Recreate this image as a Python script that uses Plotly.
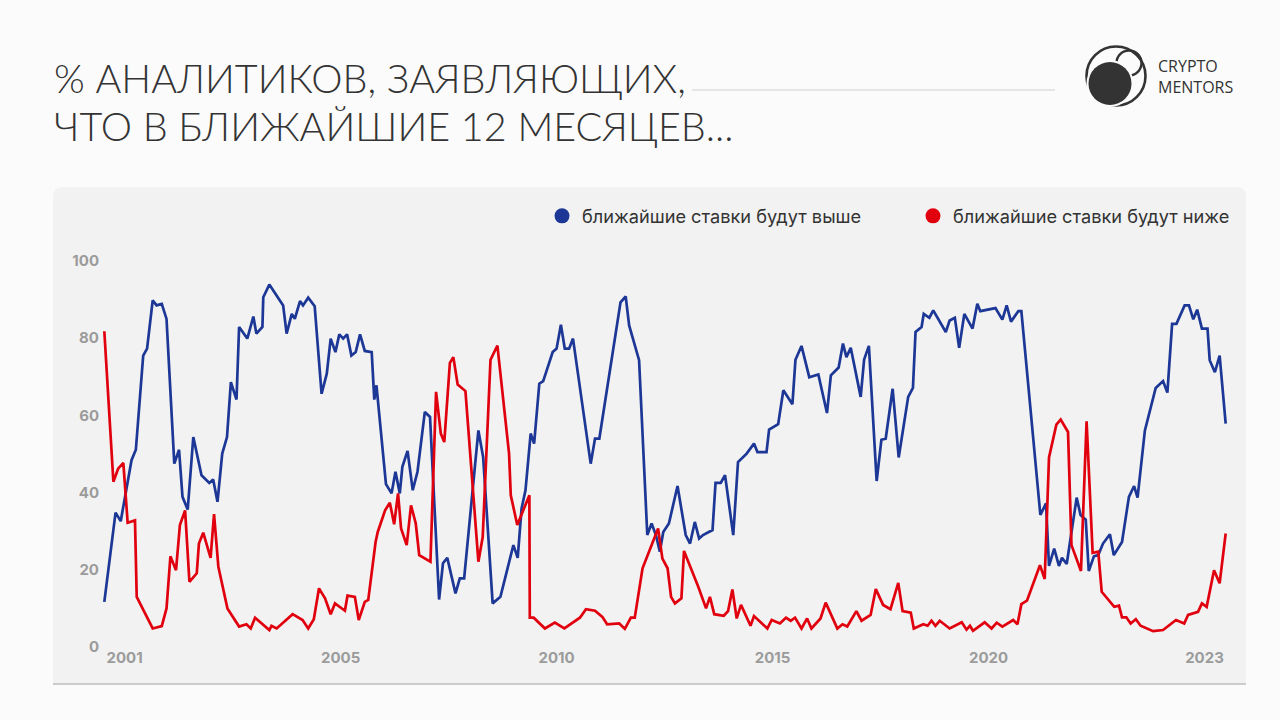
import plotly.graph_objects as go

# ---------------- data ----------------
# timeline positions on the chart's horizontal scale (axis units, years-like)
blue_x = [1999.53, 1999.79, 1999.91, 2000.16, 2000.26, 2000.43, 2000.52, 2000.65, 2000.74, 2000.86, 2000.97,
          2001.15, 2001.26, 2001.34, 2001.46, 2001.59, 2001.78, 2001.96, 2002.05, 2002.15, 2002.26, 2002.37,
          2002.46, 2002.59, 2002.65, 2002.84, 2002.98, 2003.05, 2003.19, 2003.21, 2003.35, 2003.67, 2003.75,
          2003.87, 2003.94, 2004.06, 2004.13, 2004.25, 2004.40, 2004.56, 2004.68, 2004.77, 2004.88, 2004.97,
          2005.06, 2005.15, 2005.25, 2005.35, 2005.45, 2005.56, 2005.72, 2005.78, 2005.83, 2006.05, 2006.18,
          2006.27, 2006.37, 2006.43, 2006.55, 2006.67, 2006.78, 2006.95, 2007.07, 2007.28, 2007.37, 2007.47,
          2007.66, 2007.76, 2007.86, 2008.19, 2008.30, 2008.52, 2008.70, 2009.00, 2009.10, 2009.19, 2009.28,
          2009.40, 2009.48, 2009.60, 2009.69, 2009.91, 2010.00, 2010.10, 2010.19, 2010.29, 2010.38, 2010.79,
          2010.89, 2010.99, 2011.48, 2011.60, 2011.68, 2011.91, 2012.10, 2012.20, 2012.30, 2012.39, 2012.47,
          2012.60, 2012.80, 2012.99, 2013.09, 2013.20, 2013.30, 2013.39, 2013.61, 2013.68, 2013.80, 2013.90,
          2014.09, 2014.20, 2014.40, 2014.57, 2014.65, 2014.86, 2014.92, 2015.13, 2015.25, 2015.46, 2015.53,
          2015.67, 2015.85, 2016.06, 2016.26, 2016.35, 2016.53, 2016.63, 2016.71, 2016.81, 2017.04, 2017.12,
          2017.23, 2017.41, 2017.52, 2017.62, 2017.78, 2017.92, 2018.14, 2018.25, 2018.31, 2018.45, 2018.50,
          2018.63, 2018.72, 2019.01, 2019.10, 2019.22, 2019.32, 2019.44, 2019.63, 2019.74, 2019.81, 2020.16,
          2020.32, 2020.42, 2020.52, 2020.69, 2020.76, 2021.20, 2021.33, 2021.40, 2021.52, 2021.63, 2021.70,
          2021.81, 2022.04, 2022.13, 2022.25, 2022.32, 2022.44, 2022.54, 2022.65, 2022.81, 2022.90, 2023.09,
          2023.25, 2023.37, 2023.45, 2023.62, 2023.87, 2024.04, 2024.14, 2024.25, 2024.35, 2024.54, 2024.64,
          2024.74, 2024.83, 2024.94, 2025.07, 2025.12, 2025.24, 2025.35, 2025.49]
blue_y = [11.7, 34.8, 32.6, 48.4, 51.1, 75.5, 77.3, 89.8, 88.5, 88.9, 85.0,
          47.5, 51.1, 38.9, 35.6, 54.4, 44.5, 42.5, 43.4, 37.6, 50.1, 54.4,
          68.6, 64.1, 82.9, 79.9, 85.6, 81.2, 82.9, 90.6, 93.9, 88.5, 81.2,
          86.3, 85.0, 89.6, 88.5, 90.5, 88.3, 65.6, 70.8, 79.9, 76.4, 81.0,
          79.9, 81.0, 75.5, 76.4, 81.0, 76.7, 76.4, 64.1, 67.8, 42.2, 39.8,
          45.4, 39.8, 46.7, 50.8, 40.6, 45.4, 60.9, 59.6, 12.3, 21.7, 23.1,
          13.9, 17.8, 17.8, 56.1, 49.2, 11.3, 13.0, 26.4, 23.1, 35.9, 40.6,
          55.3, 52.7, 68.2, 68.9, 76.4, 77.3, 83.5, 77.3, 77.3, 79.9, 47.5,
          54.0, 54.0, 89.3, 90.8, 83.3, 74.3, 29.0, 32.0, 29.0, 24.7, 29.8,
          32.0, 41.7, 29.0, 26.8, 32.4, 28.1, 29.0, 30.3, 42.5, 42.5, 44.5,
          29.0, 47.9, 50.1, 52.7, 50.5, 50.5, 56.3, 57.7, 66.5, 62.9, 74.4,
          78.0, 69.9, 70.6, 60.6, 70.4, 72.4, 78.6, 75.1, 77.5, 64.8, 74.5,
          78.0, 43.0, 53.7, 54.0, 66.9, 49.1, 64.8, 67.1, 81.6, 82.9, 86.3,
          85.3, 87.2, 81.6, 84.6, 85.3, 77.5, 86.3, 82.5, 88.9, 87.0, 87.8,
          84.8, 88.5, 84.3, 87.0, 87.0, 34.2, 37.2, 21.0, 25.5, 21.0, 23.1,
          21.5, 38.7, 34.2, 33.0, 19.7, 23.5, 23.8, 26.8, 29.2, 23.8, 27.2,
          38.9, 41.7, 38.7, 56.1, 67.1, 68.9, 65.9, 83.7, 83.7, 88.5, 88.5,
          84.9, 87.4, 82.5, 82.5, 74.3, 71.2, 75.5, 57.9]

red_x = [1999.53, 1999.74, 1999.85, 1999.97, 2000.07, 2000.24, 2000.28, 2000.65, 2000.86, 2000.97, 2001.06,
         2001.19, 2001.28, 2001.40, 2001.50, 2001.67, 2001.72, 2001.82, 2001.99, 2002.07, 2002.17, 2002.38,
         2002.65, 2002.82, 2002.92, 2003.02, 2003.35, 2003.40, 2003.52, 2003.89, 2004.12, 2004.25, 2004.38,
         2004.50, 2004.64, 2004.77, 2004.87, 2005.10, 2005.16, 2005.33, 2005.42, 2005.56, 2005.64, 2005.81,
         2005.86, 2006.03, 2006.14, 2006.24, 2006.33, 2006.40, 2006.53, 2006.63, 2006.74, 2006.82, 2007.08,
         2007.21, 2007.32, 2007.40, 2007.53, 2007.61, 2007.71, 2007.89, 2008.19, 2008.29, 2008.47, 2008.63,
         2008.90, 2008.94, 2009.09, 2009.37, 2009.38, 2009.47, 2009.73, 2009.96, 2010.18, 2010.54, 2010.68,
         2010.89, 2011.06, 2011.17, 2011.45, 2011.58, 2011.72, 2011.81, 2011.99, 2012.35, 2012.45, 2012.57,
         2012.65, 2012.74, 2012.89, 2012.95, 2013.28, 2013.46, 2013.55, 2013.65, 2013.87, 2013.97, 2014.07,
         2014.17, 2014.27, 2014.49, 2014.57, 2014.88, 2014.98, 2015.17, 2015.31, 2015.42, 2015.52, 2015.67,
         2015.80, 2015.90, 2016.11, 2016.23, 2016.50, 2016.62, 2016.73, 2016.94, 2017.06, 2017.27, 2017.39,
         2017.56, 2017.73, 2017.91, 2018.01, 2018.20, 2018.27, 2018.49, 2018.59, 2018.68, 2018.77, 2018.87,
         2019.10, 2019.38, 2019.49, 2019.57, 2019.64, 2019.91, 2020.07, 2020.19, 2020.32, 2020.57, 2020.67,
         2020.76, 2020.89, 2021.19, 2021.30, 2021.40, 2021.57, 2021.67, 2021.84, 2021.92, 2022.14, 2022.27,
         2022.41, 2022.54, 2022.62, 2022.91, 2023.02, 2023.09, 2023.19, 2023.29, 2023.41, 2023.52, 2023.81,
         2024.04, 2024.34, 2024.53, 2024.62, 2024.85, 2024.94, 2025.05, 2025.22, 2025.35, 2025.49]
red_y = [81.8, 42.8, 46.2, 47.7, 32.2, 32.8, 13.0, 4.8, 5.4, 10.0, 23.5,
         19.9, 31.6, 35.4, 16.9, 19.1, 26.8, 29.6, 23.1, 34.4, 20.8, 10.0,
         5.3, 5.9, 4.8, 7.6, 4.4, 5.5, 4.8, 8.5, 7.0, 4.8, 7.2,
         15.2, 12.6, 8.5, 11.3, 9.4, 13.3, 13.0, 7.0, 11.7, 12.2, 27.2,
         29.8, 35.4, 37.4, 31.8, 39.8, 30.7, 26.4, 36.7, 32.0, 23.8, 22.1,
         66.1, 55.3, 53.1, 73.6, 75.1, 68.0, 66.3, 22.1, 28.5, 74.4, 78.1,
         50.1, 39.3, 31.6, 39.3, 7.6, 7.6, 4.8, 6.3, 4.8, 7.6, 9.8,
         9.4, 7.8, 5.9, 6.1, 4.7, 7.6, 7.6, 20.4, 30.7, 22.9, 20.4,
         13.0, 11.3, 12.6, 24.9, 15.6, 10.0, 13.0, 8.5, 8.1, 9.3, 14.9,
         7.4, 10.9, 5.5, 8.0, 4.8, 7.0, 6.1, 7.6, 6.8, 7.6, 4.8,
         7.4, 4.8, 7.4, 11.5, 4.8, 5.9, 5.3, 9.3, 6.8, 8.3, 15.0,
         10.9, 9.8, 16.6, 9.3, 8.9, 4.8, 5.9, 5.5, 6.8, 5.5, 6.8,
         4.8, 6.4, 4.5, 5.5, 4.2, 6.4, 4.8, 6.3, 5.3, 7.0, 5.9,
         11.1, 12.0, 21.2, 17.6, 49.1, 57.6, 58.9, 55.7, 26.4, 19.7, 58.5,
         24.4, 24.7, 14.3, 10.4, 10.7, 7.7, 7.7, 6.1, 7.2, 5.5, 4.1,
         4.4, 7.0, 6.1, 8.3, 9.1, 11.3, 10.4, 19.9, 16.5, 29.4]

tick_pos = [2000, 2005, 2010, 2015, 2020, 2025]
tick_labels = ["2001", "2005", "2010", "2015", "2020", "2023"]
y_ticks = [0, 20, 40, 60, 80, 100]

series_names = ["ближайшие ставки будут выше", "ближайшие ставки будут ниже"]
title_lines = ["% АНАЛИТИКОВ, ЗАЯВЛЯЮЩИХ,", "ЧТО В БЛИЖАЙШИЕ 12 МЕСЯЦЕВ..."]
logo_lines = ["CRYPTO", "MENTORS"]

# ---------------- style ----------------
BLUE = "#1c3796"
RED = "#e1000e"
W, H = 1280, 720
L, R, T, B = 100, 1230, 261, 647  # plot area in px


def px(x):
    return (x - L) / (R - L)


def py(y):
    return (B - y) / (B - T)


fig = go.Figure()
fig.add_trace(go.Scatter(x=blue_x, y=blue_y, mode="lines", line=dict(color=BLUE, width=2.7),
                         showlegend=False, cliponaxis=False))
fig.add_trace(go.Scatter(x=red_x, y=red_y, mode="lines", line=dict(color=RED, width=2.7),
                         showlegend=False, cliponaxis=False))
# legend entries (dots)
fig.add_trace(go.Scatter(x=[None], y=[None], mode="markers", name=series_names[0],
                         marker=dict(color=BLUE, size=15)))
fig.add_trace(go.Scatter(x=[None], y=[None], mode="markers", name=series_names[1],
                         marker=dict(color=RED, size=15)))

shapes = []
# panel (rounded rect)
x0, x1, y0, y1, r = 53, 1246, 187, 684, 10
path = (f"M {px(x0 + r)},{py(y0)} L {px(x1 - r)},{py(y0)} Q {px(x1)},{py(y0)} {px(x1)},{py(y0 + r)} "
        f"L {px(x1)},{py(y1)} L {px(x0)},{py(y1)} L {px(x0)},{py(y0 + r)} Q {px(x0)},{py(y0)} {px(x0 + r)},{py(y0)} Z")
shapes.append(dict(type="path", xref="paper", yref="paper", path=path, fillcolor="#f2f2f2",
                   line=dict(width=0), layer="below"))
shapes.append(dict(type="line", xref="paper", yref="paper", x0=px(53), x1=px(1246), y0=py(684), y1=py(684),
                   line=dict(color="#bdbdbd", width=1.5), layer="below"))
# title rule
shapes.append(dict(type="line", xref="paper", yref="paper", x0=px(692), x1=px(1055), y0=py(90), y1=py(90),
                   line=dict(color="#cfcfcf", width=1), layer="below"))
# logo


def circle(cx, cy, rad, **kw):
    return dict(type="circle", xref="paper", yref="paper", x0=px(cx - rad), x1=px(cx + rad),
                y0=py(cy + rad), y1=py(cy - rad), **kw)


shapes.append(circle(1116, 76, 29.5, line=dict(color="#333333", width=2.6), fillcolor="rgba(0,0,0,0)"))
shapes.append(circle(1129, 63, 12.5, line=dict(color="#333333", width=2.4), fillcolor="rgba(0,0,0,0)"))
shapes.append(circle(1110, 83.5, 23.5, line=dict(width=0), fillcolor="#fbfbfb"))
shapes.append(circle(1110, 83.5, 21.5, line=dict(width=0), fillcolor="#333333"))

annotations = []
title_font = dict(family="Lato", size=39.5, color="#333333", weight=300)
annotations.append(dict(xref="paper", yref="paper", x=px(52), y=py(77), xanchor="left", yanchor="middle",
                        text=title_lines[0], showarrow=False, font=title_font))
annotations.append(dict(xref="paper", yref="paper", x=px(52), y=py(125), xanchor="left", yanchor="middle",
                        text=title_lines[1], showarrow=False, font=title_font))
logo_font = dict(family="Open Sans", size=16, color="#333333", weight=500)
annotations.append(dict(xref="paper", yref="paper", x=px(1157), y=py(76.5), xanchor="left", yanchor="middle",
                        text="<br>".join(logo_lines), align="left", showarrow=False, font=logo_font,
                        borderpad=0))

tickfont = dict(family="Inter", size=15, color="#9b9b9b", weight=700)

fig.update_layout(
    width=W, height=H,
    margin=dict(l=L, r=W - R, t=T, b=H - B, pad=0, autoexpand=False),
    paper_bgcolor="#fbfbfb",
    plot_bgcolor="rgba(0,0,0,0)",
    shapes=shapes,
    annotations=annotations,
    showlegend=True,
    legend=dict(orientation="h", x=px(542), xanchor="left", y=py(216), yanchor="middle",
                font=dict(family="Inter", size=18.2, color="#333333"), bgcolor="rgba(0,0,0,0)",
                itemclick=False, entrywidthmode="pixels", entrywidth=326, traceorder="normal"),
    xaxis=dict(range=[1999.43, 2025.59], tickvals=tick_pos, ticktext=tick_labels, showgrid=False,
               zeroline=False, showline=False, ticks="", tickfont=tickfont, fixedrange=True),
    yaxis=dict(range=[0, 100], tickvals=y_ticks, showgrid=False, zeroline=False, showline=False,
               ticks="", tickfont=tickfont, fixedrange=True),
)

fig.write_html("out.html")
